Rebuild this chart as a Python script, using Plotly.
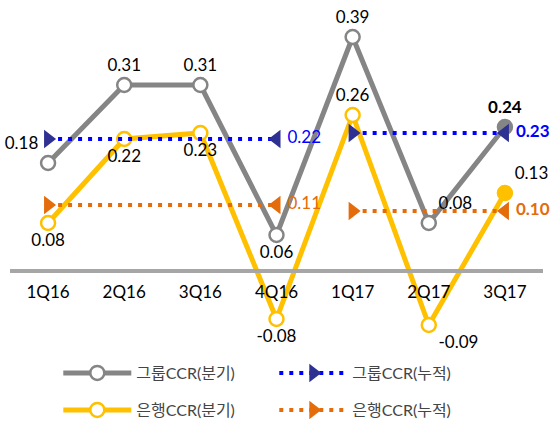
import plotly.graph_objects as go

categories = ["1Q16", "2Q16", "3Q16", "4Q16", "1Q17", "2Q17", "3Q17"]
group_q = [0.18, 0.31, 0.31, 0.06, 0.39, 0.08, 0.24]
bank_q = [0.08, 0.22, 0.23, -0.08, 0.26, -0.09, 0.13]
# cumulative: two periods (2016: 1Q16-4Q16, 2017: 1Q17-3Q17)
cum_x = ["1Q16", "4Q16", None, "1Q17", "3Q17"]
group_cum = [0.22, 0.22, None, 0.23, 0.23]
bank_cum = [0.11, 0.11, None, 0.10, 0.10]

names = ["그룹CCR(분기)", "그룹CCR(누적)", "은행CCR(분기)", "은행CCR(누적)"]

GRAY = "#858585"
YEL = "#FFC000"
BLUE = "#0000FF"
NAVY = "#2E3192"
ORANGE = "#E46C0A"
FONT = "Lato, Noto Sans CJK KR, sans-serif"

def fmt(v):
    return f"{v:.2f}"

n = len(categories)
group_text = [fmt(v) for v in group_q]
group_text[-1] = "<b>" + group_text[-1] + "</b>"
bank_text = [fmt(v) for v in bank_q]

group_pos = ["top left", "top center", "top center", "bottom center", "top center", "top right", "top center"]
bank_pos = ["bottom center", "bottom center", "bottom center", "bottom center", "top center", "bottom right", "top right"]

def cum_text(vals, bold_last):
    out = []
    for i, v in enumerate(vals):
        if v is None:
            out.append("")
        elif i == 1:
            out.append(fmt(v))
        elif i == len(vals) - 1:
            out.append("<b>" + fmt(v) + "</b>" if bold_last else fmt(v))
        else:
            out.append("")
    return out

sym = ["triangle-right", "triangle-left", "circle", "triangle-right", "triangle-left"]

fig = go.Figure()

fig.add_trace(go.Scatter(
    x=categories, y=group_q, mode="lines+markers+text", name=names[0],
    line=dict(color=GRAY, width=5),
    marker=dict(symbol="circle", size=14, color=["white"] * (n - 1) + [GRAY],
                line=dict(color=GRAY, width=2.5)),
    text=group_text, textposition=group_pos,
    textfont=dict(family=FONT, size=17, color="black"),
    cliponaxis=False, legend="legend",
))
fig.add_trace(go.Scatter(
    x=categories, y=bank_q, mode="lines+markers+text", name=names[2],
    line=dict(color=YEL, width=5),
    marker=dict(symbol="circle", size=14, color=["white"] * (n - 1) + [YEL],
                line=dict(color=YEL, width=2.5)),
    text=bank_text, textposition=bank_pos,
    textfont=dict(family=FONT, size=17, color="black"),
    cliponaxis=False, legend="legend2",
))
fig.add_trace(go.Scatter(
    x=cum_x, y=group_cum, mode="lines+markers+text", name=names[1],
    line=dict(color=BLUE, width=4, dash="4px,6px"),
    marker=dict(symbol=sym, size=16, color=NAVY),
    text=cum_text(group_cum, True), textposition="middle right",
    textfont=dict(family=FONT, size=17, color=BLUE),
    connectgaps=False, cliponaxis=False, legend="legend",
))
fig.add_trace(go.Scatter(
    x=cum_x, y=bank_cum, mode="lines+markers+text", name=names[3],
    line=dict(color=ORANGE, width=4, dash="4px,6px"),
    marker=dict(symbol=sym, size=16, color=ORANGE),
    text=cum_text(bank_cum, True), textposition="middle right",
    textfont=dict(family=FONT, size=17, color=ORANGE),
    connectgaps=False, cliponaxis=False, legend="legend2",
))

top_px, bot_px, zero_px, ppu = 20, 350, 271, 600.0
y_hi = (zero_px - top_px) / ppu
y_lo = (zero_px - bot_px) / ppu
axis_pos = (bot_px - zero_px) / (bot_px - top_px)

legend_common = dict(
    orientation="h", xanchor="left", yanchor="middle", x=0.0906,
    entrywidth=133, entrywidthmode="pixels", itemwidth=68,
    font=dict(family=FONT, size=16, color="#454545"),
    bgcolor="rgba(0,0,0,0)", traceorder="normal",
)

fig.update_layout(
    width=556, height=422,
    margin=dict(l=10, r=13, t=top_px, b=422 - bot_px, autoexpand=False),
    paper_bgcolor="white", plot_bgcolor="white",
    showlegend=True,
    legend=dict(**legend_common, y=-(373 - bot_px) / (bot_px - top_px)),
    legend2=dict(**legend_common, y=-(410 - bot_px) / (bot_px - top_px)),
    xaxis=dict(
        type="category", categoryorder="array", categoryarray=categories,
        range=[-0.5, n - 0.5], anchor="free", position=axis_pos,
        showline=True, linecolor="#A6A6A6", linewidth=4,
        showgrid=False, zeroline=False,
        ticks="outside", ticklen=5, tickcolor="rgba(0,0,0,0)",
        tickfont=dict(family=FONT, size=17, color="black"),
    ),
    yaxis=dict(range=[y_lo, y_hi], visible=False, showgrid=False, zeroline=False),
)

fig.write_html("out.html", config={"displayModeBar": False},
               post_script="document.body.style.margin='0';")
